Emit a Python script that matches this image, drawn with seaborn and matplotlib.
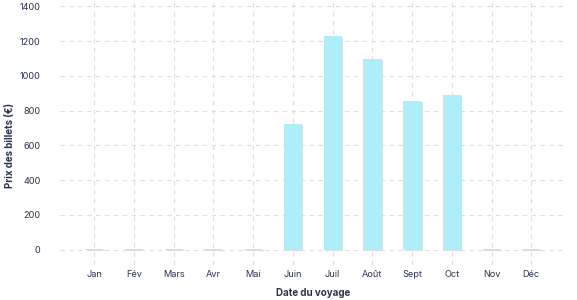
import matplotlib
matplotlib.use("Agg")
import matplotlib.pyplot as plt
import matplotlib.patheffects as pe
import seaborn as sns
import pandas as pd

# data
mois = ["Jan", "Fév", "Mars", "Avr", "Mai", "Juin", "Juil", "Août", "Sept", "Oct", "Nov", "Déc"]
prix = [6, 6, 6, 6, 6, 723, 1228, 1096, 855, 889, 6, 6]
y_ticks = [0, 200, 400, 600, 800, 1000, 1200, 1400]

df = pd.DataFrame({"mois": mois, "prix": prix})

sns.set_theme(style="white")
plt.rcParams["font.family"] = ["Inter", "DejaVu Sans"]
txt = "#2b3350"

fig, ax = plt.subplots(figsize=(5.77, 3.0), dpi=100)
sns.barplot(data=df, x="mois", y="prix", color="#aeeef8", saturation=1,
            width=0.45, linewidth=0, ax=ax, zorder=3)
for p in ax.patches:
    p.set_path_effects([pe.SimplePatchShadow(offset=(1.2, -1), shadow_rgbFace="#dcdcdc", alpha=1),
                        pe.Normal()])

ax.set_ylim(-88, 1436)
ax.set_xlim(-0.86, 11.86)
ax.set_yticks(y_ticks)
ax.grid(True, color="#dedede", linestyle=(0, (4, 4)), linewidth=0.8, zorder=0)
ax.set_axisbelow(True)
for s in ax.spines.values():
    s.set_visible(False)
ax.tick_params(axis="both", length=0, labelsize=6.6, colors=txt)
ax.tick_params(axis="x", pad=4)
ax.tick_params(axis="y", pad=14)
ax.set_xlabel("Date du voyage", fontsize=7, fontweight="bold", color=txt, labelpad=6)
ax.set_ylabel("Prix des billets (€)", fontsize=7, fontweight="bold", color=txt)
ax.yaxis.set_label_coords(-0.089, 0.45)

plt.subplots_adjust(left=0.104, right=0.98, top=1.0, bottom=0.117)
plt.savefig("out.png", dpi=100)
